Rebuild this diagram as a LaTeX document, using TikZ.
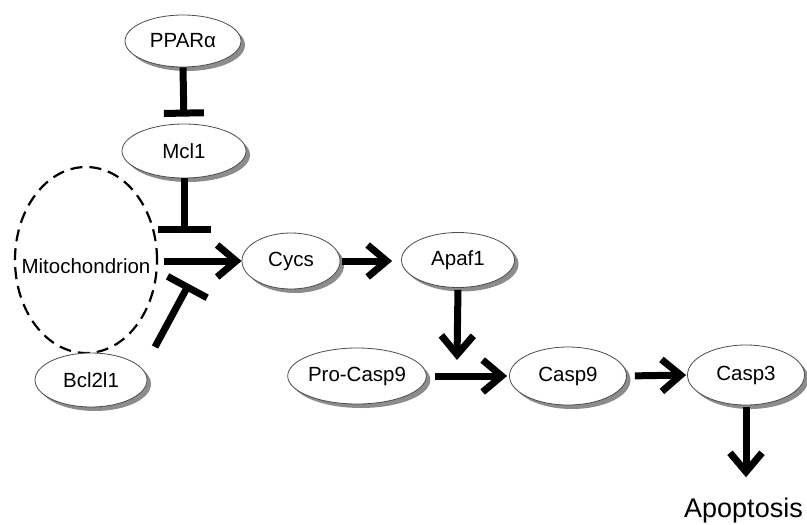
\documentclass[tikz,border=0pt]{standalone}
\usepackage{fontspec}
\setmainfont{Liberation Sans}
\usetikzlibrary{shapes.geometric,arrows.meta,shadows}
\begin{document}
\begin{tikzpicture}[x=1pt,y=-1pt,
  gene/.style={ellipse, draw=black!70, line width=0.8pt, fill=white, inner sep=0pt,
    font=\fontsize{20.5}{24}\selectfont,
    drop shadow={shadow xshift=4pt, shadow yshift=-4pt, fill=black!45, opacity=1}},
  act/.style={line width=7pt, -{Straight Barb[length=19pt,width=32pt]}},
  inh/.style={line width=7pt, -{Bar[width=#1]}},
]
\useasboundingbox (0,0) rectangle (807,525);

\node[gene, minimum width=116pt, minimum height=52pt] (ppar) at (183,41) {PPARα};
\node[gene, minimum width=124pt, minimum height=54pt] (mcl) at (184,151) {Mcl1};
\node[ellipse, draw, line width=2.2pt, dash pattern=on 12pt off 7pt, inner sep=0pt,
      minimum width=142pt, minimum height=186pt] (mito) at (86,260) {};
\node[font=\fontsize{20.5}{24}\selectfont, inner sep=0pt] (mitolabel) at (86,266) {Mitochondrion};
\node[gene, minimum width=112pt, minimum height=54pt] (bcl) at (91,380) {Bcl2l1};
\node[gene, minimum width=98pt, minimum height=56pt] (cycs) at (291,261) {Cycs};
\node[gene, minimum width=113pt, minimum height=55pt] (apaf) at (458,260) {Apaf1};
\node[gene, minimum width=120pt, minimum height=56pt] (procasp) at (357,376) {Pro-Casp9};
\node[gene, minimum width=117pt, minimum height=58pt] (casp9) at (568,376) {Casp9};
\node[gene, minimum width=117pt, minimum height=60pt] (casp3) at (746,375) {Casp3};
\node[anchor=base west, inner sep=0pt, font=\fontsize{27}{32}\selectfont] (apo) at (684,517) {Apoptosis};

\coordinate (b1) at (184,233);
\coordinate (bclout) at (155,347);
\coordinate (b3) at (189,284);
\coordinate (a2) at (457,360);

\draw[inh=40pt, shorten >=7pt] (ppar.south) -- (mcl.north);
\draw[inh=53pt] (mcl.south) -- (b1);
\draw[inh=45pt] (bclout) -- (b3);
\draw[act, shorten <=6pt] (mito.east |- cycs.west) -- (cycs.west);
\draw[act, shorten <=2pt, shorten >=9pt] (cycs.east) -- (apaf.west |- cycs.east);
\draw[act, shorten <=2pt] (apaf.south) -- (a2);
\draw[act, shorten <=8pt, shorten >=2pt] (procasp.east) -- (casp9.west);
\draw[act, shorten <=8pt, shorten >=1pt] (casp9.east) -- (casp3.west);
\draw[act, shorten <=2pt, shorten >=20pt] (casp3.south) -- (casp3.south |- apo.north);
\end{tikzpicture}
\end{document}
